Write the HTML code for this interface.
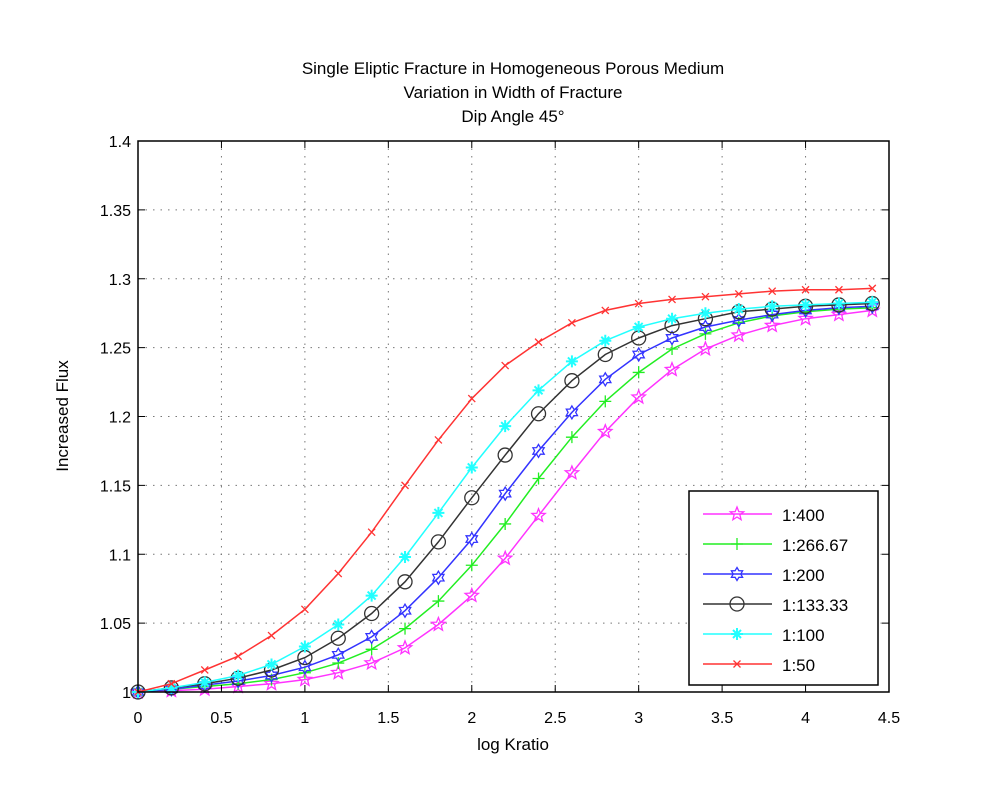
<!DOCTYPE html>
<html><head><meta charset="utf-8"><style>
body{margin:0;background:#fff;}
svg{display:block;font-family:"Liberation Sans",Arial,sans-serif;}
</style></head><body>
<svg id="chart" width="1000" height="805" viewBox="0 0 1000 805" xmlns="http://www.w3.org/2000/svg">
<rect width="1000" height="805" fill="#fff"/>
<g font-size="17" text-anchor="middle" fill="#000">
<text x="513" y="74">Single Eliptic Fracture in Homogeneous Porous Medium</text>
<text x="513" y="98">Variation in Width of Fracture</text>
<text x="513" y="122">Dip Angle 45°</text>
</g>
<g id="grid"></g>
<g id="series"></g>
<rect x="138" y="141" width="751" height="551" fill="none" stroke="#000" stroke-width="1.5"/>
<g id="ticks"></g>
<text x="513" y="750" font-size="17" text-anchor="middle">log Kratio</text>
<text x="68" y="416" font-size="17" text-anchor="middle" transform="rotate(-90 68 416)">Increased Flux</text>
<g id="legend"></g>
</svg>
<script>
const xs = [0,0.2,0.4,0.6,0.8,1.0,1.2,1.4,1.6,1.8,2.0,2.2,2.4,2.6,2.8,3.0,3.2,3.4,3.6,3.8,4.0,4.2,4.4];
const s400 = [1.0,1.001,1.002,1.004,1.006,1.009,1.014,1.021,1.032,1.049,1.070,1.097,1.128,1.159,1.189,1.214,1.234,1.249,1.259,1.266,1.271,1.274,1.277];
const s266 = [1.0,1.002,1.004,1.006,1.009,1.014,1.021,1.031,1.046,1.066,1.092,1.122,1.155,1.185,1.211,1.232,1.249,1.260,1.268,1.273,1.276,1.278,1.279];
const s200 = [1.0,1.002,1.005,1.008,1.012,1.018,1.027,1.040,1.059,1.083,1.111,1.144,1.175,1.203,1.227,1.245,1.257,1.265,1.270,1.274,1.277,1.279,1.280];
const s133 = [1.0,1.003,1.006,1.010,1.016,1.025,1.039,1.057,1.080,1.109,1.141,1.172,1.202,1.226,1.245,1.257,1.266,1.271,1.276,1.278,1.280,1.281,1.282];
const s100 = [1.0,1.003,1.007,1.012,1.020,1.033,1.049,1.070,1.098,1.130,1.163,1.193,1.219,1.240,1.255,1.265,1.271,1.275,1.278,1.280,1.281,1.282,1.283];
const s50 = [1.0,1.006,1.016,1.026,1.041,1.060,1.086,1.116,1.150,1.183,1.213,1.237,1.254,1.268,1.277,1.282,1.285,1.287,1.289,1.291,1.292,1.292,1.293];
const seriesNames = ["1:400","1:266.67","1:200","1:133.33","1:100","1:50"];
const xTicks = [0,0.5,1,1.5,2,2.5,3,3.5,4,4.5];
const yTicks = [1,1.05,1.1,1.15,1.2,1.25,1.3,1.35,1.4];
const xTickLabels = ["0","0.5","1","1.5","2","2.5","3","3.5","4","4.5"];
const yTickLabels = ["1","1.05","1.1","1.15","1.2","1.25","1.3","1.35","1.4"];

const L=138,R=889,T=141,B=692;
const sx=v=>L+(v-0)/(4.5-0)*(R-L);
const sy=v=>B-(v-1)/(1.4-1)*(B-T);
const NS="http://www.w3.org/2000/svg";
function mk(tag,attrs,parent){const e=document.createElementNS(NS,tag);for(const k in attrs)e.setAttribute(k,attrs[k]);parent.appendChild(e);return e;}
const grid=document.getElementById('grid'),ticks=document.getElementById('ticks'),ser=document.getElementById('series'),leg=document.getElementById('legend');
xTicks.forEach((t,i)=>{const x=sx(t);
 if(i>0&&i<xTicks.length-1){const g=mk('line',{x1:x,x2:x,y1:T,y2:B,stroke:'#777','stroke-width':1,'stroke-dasharray':'1.5 6'},grid);}
 mk('line',{x1:x,x2:x,y1:B,y2:B-7,stroke:'#000'},ticks);mk('line',{x1:x,x2:x,y1:T,y2:T+7,stroke:'#000'},ticks);
 const tx=mk('text',{x:x,y:723,'font-size':16,'text-anchor':'middle'},ticks);tx.textContent=xTickLabels[i];
 });
yTicks.forEach((t,i)=>{const y=sy(t);
 if(i>0&&i<yTicks.length-1){const g=mk('line',{x1:L,x2:R,y1:y,y2:y,stroke:'#777','stroke-width':1,'stroke-dasharray':'1.5 6'},grid);}
 mk('line',{x1:L,x2:L+7,y1:y,y2:y,stroke:'#000'},ticks);mk('line',{x1:R,x2:R-7,y1:y,y2:y,stroke:'#000'},ticks);
 const tx=mk('text',{x:131,y:y+6,'font-size':16,'text-anchor':'end'},ticks);tx.textContent=yTickLabels[i];
 });
function star(cx,cy,r,n,ri){let p=[];for(let i=0;i<2*n;i++){const a=-Math.PI/2+i*Math.PI/n;const rr=i%2?ri:r;p.push((cx+rr*Math.cos(a)).toFixed(1)+','+(cy+rr*Math.sin(a)).toFixed(1));}return p.join(' ');}
function marker(type,x,y,c,g){
 if(type==='pent')mk('polygon',{points:star(x,y,7,5,3),fill:'none',stroke:c,'stroke-width':1.3},g);
 else if(type==='plus'){mk('path',{d:`M${x-6} ${y}H${x+6}M${x} ${y-6}V${y+6}`,stroke:c,'stroke-width':1.3},g);}
 else if(type==='hex')mk('polygon',{points:star(x,y,6.5,6,3.8),fill:'none',stroke:c,'stroke-width':1.3},g);
 else if(type==='circ')mk('circle',{cx:x,cy:y,r:7,fill:'none',stroke:c,'stroke-width':1.3},g);
 else if(type==='ast'){mk('path',{d:`M${x-6} ${y}H${x+6}M${x} ${y-6}V${y+6}M${x-4} ${y-4}L${x+4} ${y+4}M${x-4} ${y+4}L${x+4} ${y-4}`,stroke:c,'stroke-width':2},g);}
 else if(type==='x'){mk('path',{d:`M${x-3.5} ${y-3.5}L${x+3.5} ${y+3.5}M${x-3.5} ${y+3.5}L${x+3.5} ${y-3.5}`,stroke:c,'stroke-width':1.3},g);}
}
const allSeries=[s400,s266,s200,s133,s100,s50];
const colors=['#ff33ff','#22ee22','#3333ff','#333333','#22ffff','#ff3333'];
const mtypes=['pent','plus','hex','circ','ast','x'];
const keys=['1-400','1-266-67','1-200','1-133-33','1-100','1-50'];
allSeries.forEach((s,k)=>{const g=mk('g',{},ser);
 
 const pts=s.map((v,i)=>sx(xs[i]).toFixed(1)+','+sy(v).toFixed(1)).join(' ');
 mk('polyline',{points:pts,fill:'none',stroke:colors[k],'stroke-width':1.5},g);
 s.forEach((v,i)=>marker(mtypes[k],sx(xs[i]),sy(v),colors[k],g));});
const lb=mk('rect',{x:689,y:491,width:189,height:194,fill:'#fff',stroke:'#000','stroke-width':1.5},leg);

seriesNames.forEach((n,k)=>{const y=514+k*30;const g=mk('g',{},leg);
 
 mk('line',{x1:703,x2:772,y1:y,y2:y,stroke:colors[k],'stroke-width':1.5},g);
 marker(mtypes[k],737,y,colors[k],g);
 const t=mk('text',{x:782,y:y+7,'font-size':17},g);t.textContent=n;});
</script>
</body></html>
